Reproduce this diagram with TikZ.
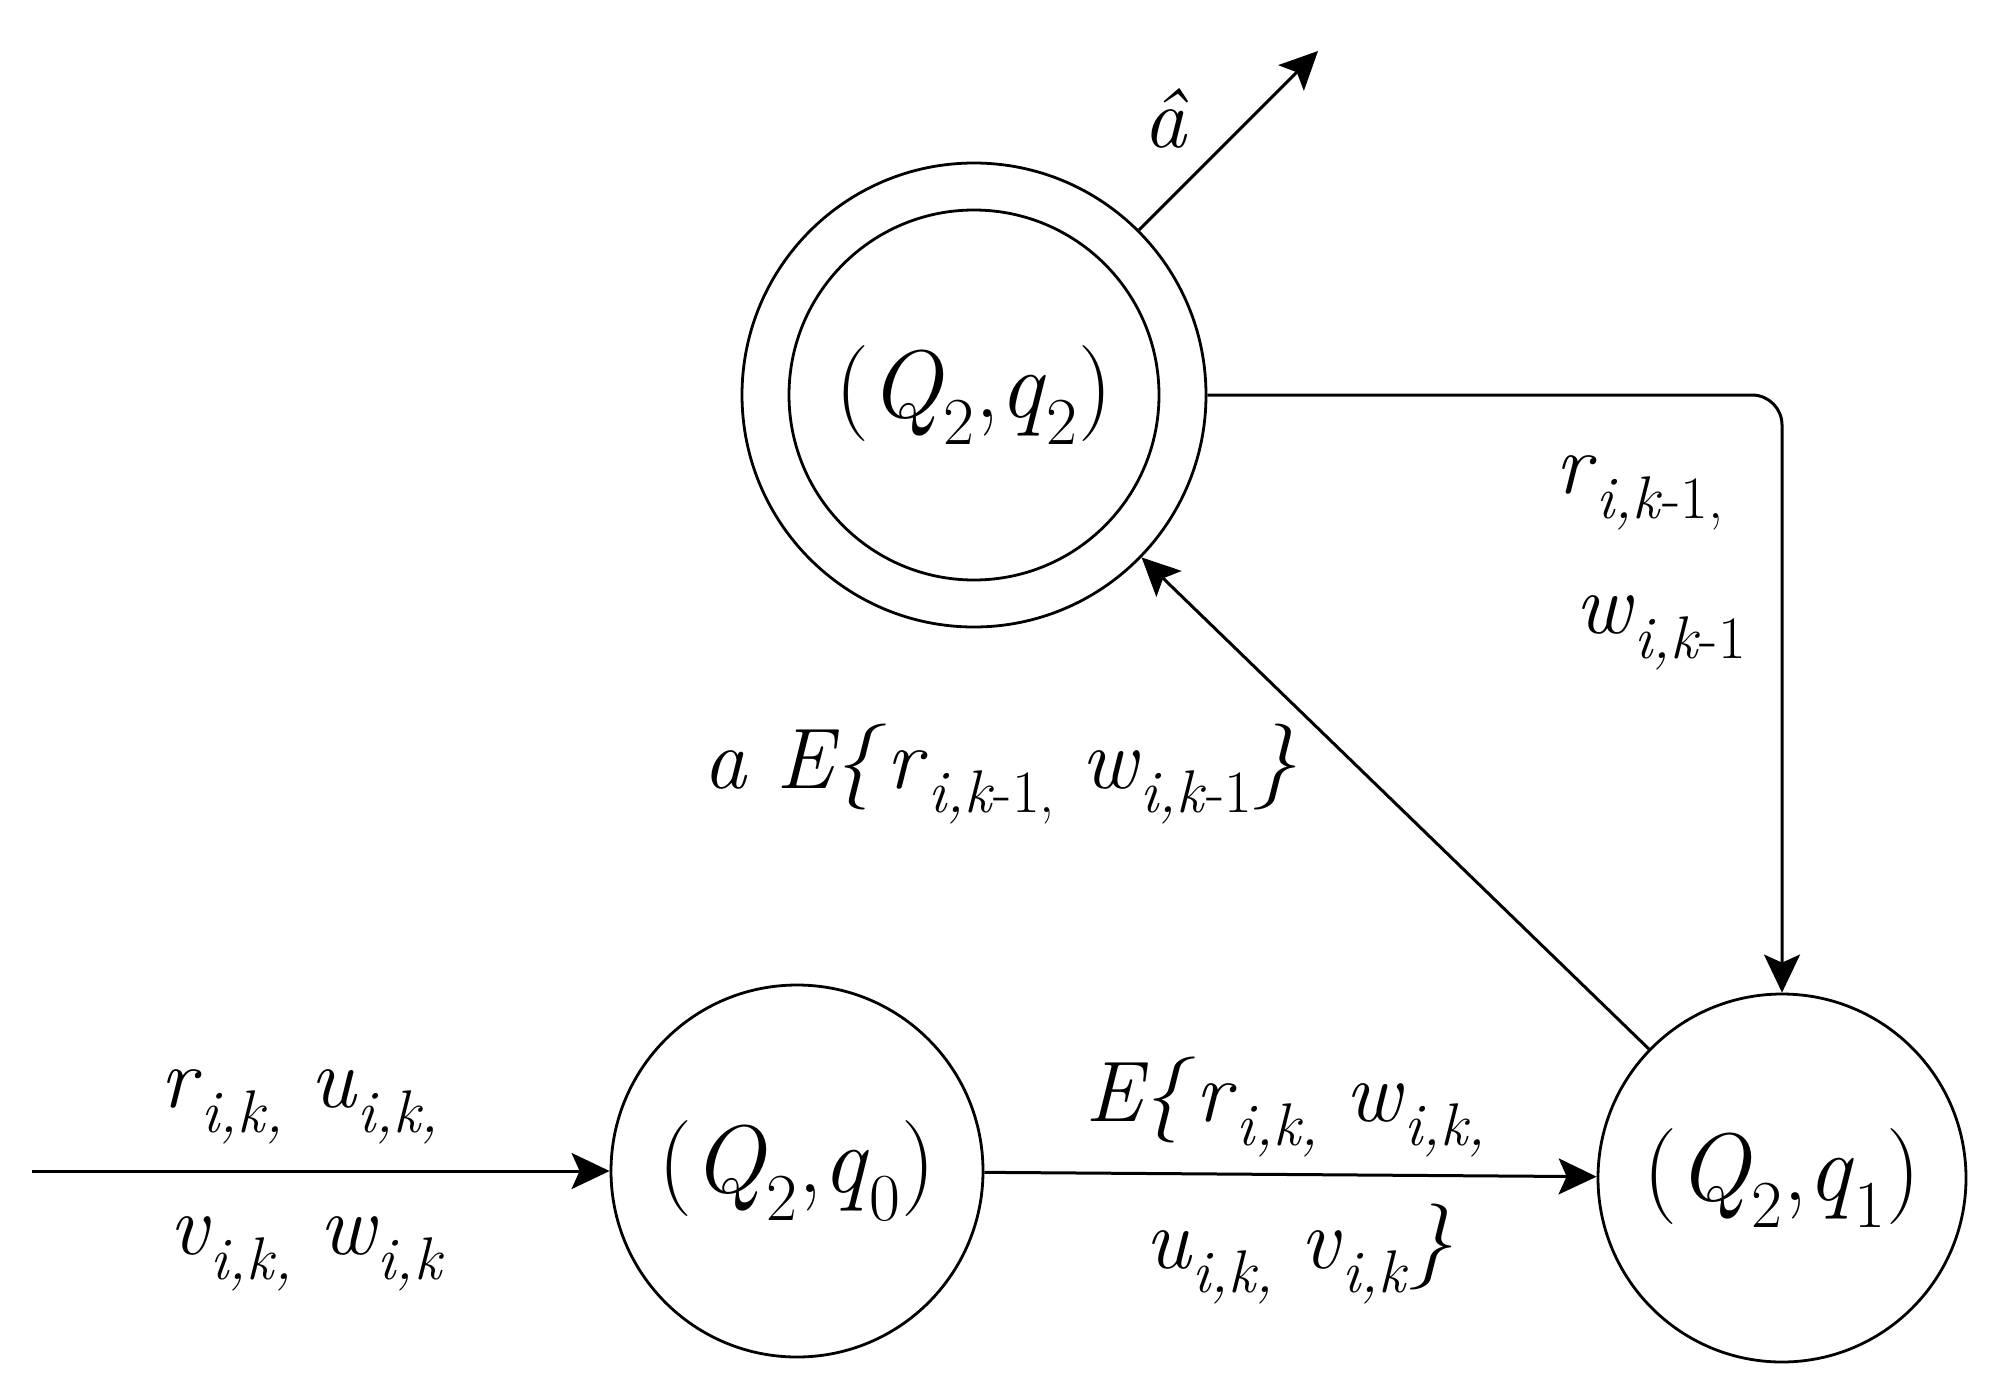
\documentclass[tikz,border=0pt]{standalone}
\usetikzlibrary{arrows.meta}
\newcommand{\vsub}[2]{\textit{#1}\textsubscript{#2}}
\begin{document}
\begin{tikzpicture}[x=0.5pt,y=-0.5pt,
  state/.style={circle,draw,line width=1.4pt,inner sep=0pt,font=\fontsize{48}{56}\selectfont},
  lbl/.style={inner sep=0pt,font=\fontsize{43}{50}\selectfont},
  arr/.style={line width=1.5pt,-{Stealth[length=19pt,width=18pt,inset=4pt]}}]
\useasboundingbox (0,0) rectangle (1996,1392);
\node[state,minimum size=232pt] (q2) at (974,395) {};
\draw[line width=1.4pt] (q2.center) circle[radius=92.5pt];
\node[inner sep=0pt,font=\fontsize{48}{56}\selectfont] (q2t) at (974,395) {(\vsub{Q}{2},\vsub{q}{2})};
\node[state,minimum size=186pt] (q0) at (797,1171) {(\vsub{Q}{2},\vsub{q}{0})};
\node[state,minimum size=184pt] (q1) at (1782,1178) {(\vsub{Q}{2},\vsub{q}{1})};
\coordinate (in) at (32,1171);
\coordinate (out) at (1318,51);
\draw[arr] (in) -- (q0);
\draw[arr] (q0) -- (q1);
\draw[arr] (q1) -- (q2);
\draw[arr] (q2) -- (out);
\draw[arr,rounded corners=15pt] (q2.east) -| (q1.north);
\node[lbl] (ahat) at (1166,118) {\textit{â}};
\node[lbl] (l1) at (1640,493) {\vsub{r}{\textit{i,k}-1,}};
\node[lbl] (l2) at (1661,633) {\vsub{w}{\textit{i,k}-1}};
\node[lbl] (l3) at (1000,774) {\textit{a E\{}\vsub{r}{\textit{i,k}-1,} \vsub{w}{\textit{i,k}-1}\textit{\}}};
\node[lbl] (l4) at (1286,1107) {\textit{E\{}\vsub{r}{\textit{i,k,}} \vsub{w}{\textit{i,k,}}};
\node[lbl] (l5) at (1299,1254) {\vsub{u}{\textit{i,k,}} \vsub{v}{\textit{i,k}}\textit{\}}};
\node[lbl] (l6) at (300,1107) {\vsub{r}{\textit{i,k,}} \vsub{u}{\textit{i,k,}}};
\node[lbl] (l7) at (307,1254) {\vsub{v}{\textit{i,k,}} \vsub{w}{\textit{i,k}}};
\end{tikzpicture}
\end{document}
